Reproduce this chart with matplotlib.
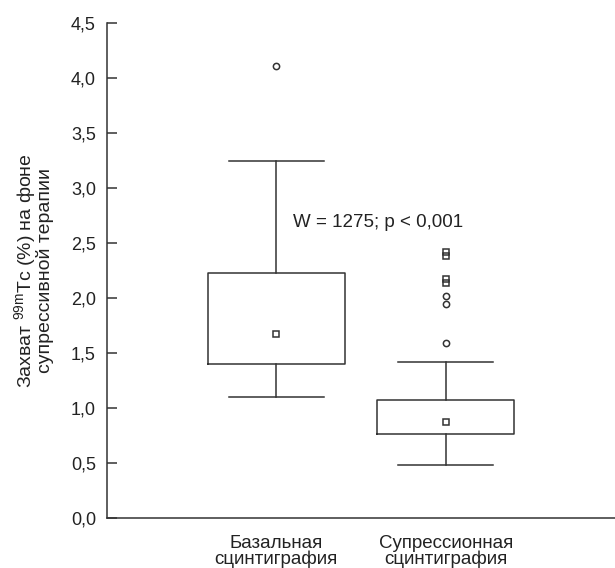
import matplotlib.pyplot as plt

plt.rcParams['font.family'] = ['Liberation Sans', 'DejaVu Sans']
plt.rcParams['mathtext.fontset'] = 'custom'
plt.rcParams['mathtext.rm'] = 'Liberation Sans'
plt.rcParams['mathtext.default'] = 'rm'

# Box statistics for the two scans
groups = ['Базальная\nсцинтиграфия', 'Супрессионная\nсцинтиграфия']
whisker_low = [1.10, 0.48]
q1 = [1.40, 0.76]
median = [1.67, 0.87]
q3 = [2.23, 1.07]
whisker_high = [3.25, 1.42]

# Outliers: circles and squares (extreme values)
circle_group = [1, 2, 2, 2]
circle_vals = [4.11, 2.02, 1.95, 1.59]
square_group = [2, 2, 2, 2]
square_vals = [2.42, 2.385, 2.17, 2.135]

yticks = [0.0, 0.5, 1.0, 1.5, 2.0, 2.5, 3.0, 3.5, 4.0, 4.5]
stat_text = 'W = 1275; p < 0,001'

line_color = '#333333'
text_color = '#222222'

fig = plt.figure(figsize=(6.15, 5.68), dpi=100)
ax = fig.add_axes([0.174, 0.088, 0.826, 0.8715])

stats = []
for i in range(len(groups)):
    stats.append({'whislo': whisker_low[i], 'q1': q1[i], 'med': median[i],
                  'q3': q3[i], 'whishi': whisker_high[i], 'fliers': []})

positions = [1, 2]
ax.bxp(stats, positions=positions, widths=0.81, capwidths=0.56,
       showfliers=False,
       boxprops=dict(color=line_color, linewidth=1.1),
       whiskerprops=dict(color=line_color, linewidth=1.1),
       capprops=dict(color=line_color, linewidth=1.1),
       medianprops=dict(linewidth=0))

# median markers
ax.plot(positions, median, linestyle='none', marker='s', markersize=4.5,
        markerfacecolor='white', markeredgecolor=line_color, markeredgewidth=1.1)
ax.plot(circle_group, circle_vals, linestyle='none', marker='o', markersize=4.5,
        markerfacecolor='white', markeredgecolor=line_color, markeredgewidth=1.1)
ax.plot(square_group, square_vals, linestyle='none', marker='s', markersize=4.5,
        markerfacecolor='none', markeredgecolor=line_color, markeredgewidth=1.1)

ax.text(1.10, 2.69, stat_text, fontsize=13.5, va='center', ha='left', color=text_color)

ax.set_xlim(0, 3)
ax.set_ylim(0, 4.5)
ax.set_yticks(yticks)
ax.set_yticklabels([f'{v:.1f}'.replace('.', ',') for v in yticks], fontsize=13, color=text_color)
ax.set_xticks(positions)
ax.set_xticklabels(groups, fontsize=13.5, color=text_color, linespacing=0.9)
ax.tick_params(axis='x', length=0, pad=12)
ax.tick_params(axis='y', direction='in', length=7, width=1.1, color=line_color, pad=8)

ax.set_ylabel('Захват $^{99m}$Tc (%) на фоне\nсупрессивной терапии',
              fontsize=14, color=text_color, labelpad=12, linespacing=0.88)

for side in ['top', 'right']:
    ax.spines[side].set_visible(False)
for side in ['left', 'bottom']:
    ax.spines[side].set_color(line_color)
    ax.spines[side].set_linewidth(1.1)

fig.savefig('out.png', dpi=100)
